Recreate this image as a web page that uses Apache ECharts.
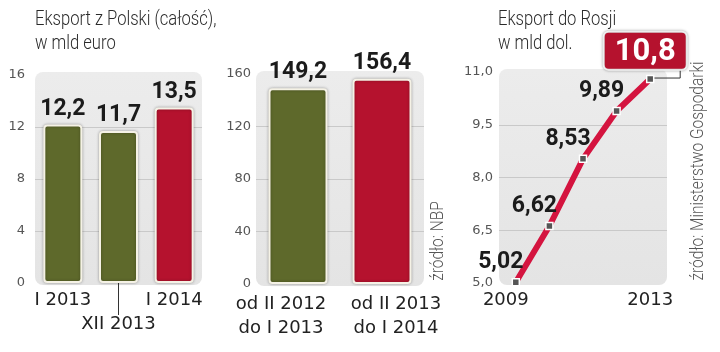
<!DOCTYPE html>
<html>
<head>
<meta charset="utf-8">
<script src="https://cdn.jsdelivr.net/npm/echarts@6/dist/echarts.min.js"></script>
<style>
html, body { margin: 0; padding: 0; background: #fff; }
#chart { width: 720px; height: 352px; }
</style>
</head>
<body>
<div id="chart"></div>
<script>
// data
var monthCats = ['I 2013', 'XII 2013', 'I 2014'];
var monthVals = [12.2, 11.7, 13.5];
var monthTicks = [0, 4, 8, 12, 16];

var yearCats = ['od II 2012\ndo I 2013', 'od II 2013\ndo I 2014'];
var yearVals = [149.2, 156.4];
var yearTicks = [0, 40, 80, 120, 160];

var russiaYears = ['2009', '2010', '2011', '2012', '2013'];
var russiaVals = [5.02, 6.62, 8.53, 9.89, 10.8];
var russiaTicks = [5.0, 6.5, 8.0, 9.5, 11.0];
var russiaShownYears = ['2009', '2013'];

var OLIVE = '#5e692b', RED = '#b5122e', LINE_RED = '#d4143f';
var BOLD = 'Roboto, sans-serif';
var PLAIN = '"DejaVu Sans", sans-serif';

function comma(v, d) {
    return (d == null ? String(v) : v.toFixed(d)).replace('.', ',');
}

// plot areas: left, top, width, height
var boxes = [
    [35, 75, 167, 208],
    [256, 74, 168, 210],
    [499, 72, 168, 211]
];

var chart = echarts.init(document.getElementById('chart'));

function valueAxis(idx, ticks, margin, fmt) {
    return {
        type: 'value', gridIndex: idx,
        min: ticks[0], max: ticks[ticks.length - 1],
        interval: ticks[1] - ticks[0],
        axisLine: { show: false },
        axisTick: { show: false },
        axisLabel: {
            color: '#555', fontFamily: PLAIN, fontSize: 13, margin: margin,
            formatter: fmt
        },
        splitLine: {
            show: true, showMinLine: false, showMaxLine: false,
            lineStyle: { color: '#c9c9c9', width: 1 }
        }
    };
}

var valueLabel = {
    show: true,
    position: 'top',
    distance: 4,
    fontFamily: BOLD,
    fontWeight: 'bold',
    fontSize: 23,
    color: '#1b1b1b',
    formatter: function (p) { return comma(p.value); }
};

var barStyle = function (lastIdx) {
    return {
        color: function (p) { return p.dataIndex === lastIdx ? RED : OLIVE; },
        borderColor: '#f5f2e6',
        borderWidth: 2,
        borderRadius: 3,
        shadowColor: 'rgba(0,0,0,0.3)',
        shadowBlur: 3
    };
};

var option = {
    animation: false,
    grid: boxes.map(function (b) {
        return { left: b[0], top: b[1], width: b[2], height: b[3] };
    }),
    xAxis: [{
        type: 'category', gridIndex: 0,
        data: monthCats.map(function (c, i) {
            return i === 1 ? { value: c, textStyle: { padding: [24, 0, 0, 0] } } : c;
        }),
        axisLine: { show: false },
        axisTick: {
            show: true, alignWithLabel: true, length: 32,
            interval: function (i) { return i === 1; },
            lineStyle: { color: '#333', width: 1 }
        },
        axisLabel: { interval: 0, color: '#222', fontFamily: PLAIN, fontSize: 18, margin: 8 }
    }, {
        type: 'category', gridIndex: 1,
        data: yearCats.map(function (c, i) {
            return { value: c, textStyle: { padding: i === 0 ? [0, 34, 0, 0] : [0, 0, 0, 28] } };
        }),
        axisLine: { show: false },
        axisTick: { show: false },
        axisLabel: { interval: 0, color: '#222', fontFamily: PLAIN, fontSize: 18, lineHeight: 24, margin: 8 }
    }, {
        type: 'category', gridIndex: 2, boundaryGap: true,
        data: russiaYears.map(function (c, i) {
            return i === 0 ? { value: c, textStyle: { padding: [0, 20, 0, 0] } } : c;
        }),
        axisLine: { show: false },
        axisTick: { show: false },
        axisLabel: {
            color: '#222', fontFamily: PLAIN, fontSize: 18, margin: 8,
            interval: function (i, v) { return russiaShownYears.indexOf(v) >= 0; }
        }
    }],
    yAxis: [
        valueAxis(0, monthTicks, 10, function (v) { return String(v); }),
        valueAxis(1, yearTicks, 5, function (v) { return String(v); }),
        valueAxis(2, russiaTicks, 6, function (v) { return comma(v, 1); })
    ],
    series: [{
        type: 'bar', xAxisIndex: 0, yAxisIndex: 0,
        data: monthVals, barWidth: 39,
        itemStyle: barStyle(monthVals.length - 1),
        label: valueLabel
    }, {
        type: 'bar', xAxisIndex: 1, yAxisIndex: 1,
        data: yearVals, barWidth: 59,
        itemStyle: barStyle(yearVals.length - 1),
        label: valueLabel
    }, {
        type: 'line', xAxisIndex: 2, yAxisIndex: 2,
        data: russiaVals.map(function (v, i) {
            if (i < russiaVals.length - 1) return v;
            return {
                value: v,
                label: {
                    offset: [-5, 0],
                    distance: 6,
                    color: '#fff',
                    fontSize: 31,
                    lineHeight: 32,
                    backgroundColor: RED,
                    borderColor: '#fff',
                    borderWidth: 2,
                    borderRadius: 4,
                    padding: [3, 10, 1, 10],
                    shadowColor: 'rgba(0,0,0,0.35)',
                    shadowBlur: 3
                }
            };
        }),
        symbol: 'rect', symbolSize: 7,
        lineStyle: { color: LINE_RED, width: 6 },
        itemStyle: { color: '#555', borderColor: '#fff', borderWidth: 1.5 },
        label: Object.assign({}, valueLabel, { offset: [-15, 0] }),
        z: 3
    }]
};

chart.setOption(option);

// leader line from the 10,8 box down to the last point
var last = chart.convertToPixel({ xAxisIndex: 2, yAxisIndex: 2 },
    [russiaVals.length - 1, russiaVals[russiaVals.length - 1]]);

var titleFont = '300 20px Roboto, sans-serif';
var sourceFont = '300 18px Roboto, sans-serif';

var graphics = boxes.map(function (b) {
    return {
        type: 'rect', z: -10, silent: true,
        shape: { x: b[0], y: b[1] - 3, width: b[2], height: b[3] + 5, r: 8 },
        style: {
            fill: new echarts.graphic.LinearGradient(0, 0, 0, 1, [
                { offset: 0, color: '#ececec' }, { offset: 1, color: '#e4e4e4' }
            ])
        }
    };
}).concat([{
    type: 'polyline', z: 1,
    shape: { points: [[last[0], last[1] - 1], [last[0] + 30, last[1] - 1], [last[0] + 30, last[1] - 12]] },
    style: { stroke: '#333', lineWidth: 1, fill: null }
}, {
    type: 'text', x: 35, y: 8, scaleX: 0.83,
    style: { text: 'Eksport z Polski (całość),\nw mld euro', fill: '#2a2a2a', font: titleFont, lineHeight: 24 }
}, {
    type: 'text', x: 498, y: 8, scaleX: 0.83,
    style: { text: 'Eksport do Rosji\nw mld dol.', fill: '#2a2a2a', font: titleFont, lineHeight: 24 }
}, {
    type: 'text', x: 438, y: 241, rotation: Math.PI / 2, scaleX: 0.86,
    style: { text: 'źródło: NBP', fill: '#555', font: sourceFont, align: 'center', verticalAlign: 'middle' }
}, {
    type: 'text', x: 698, y: 171, rotation: Math.PI / 2, scaleX: 0.86,
    style: { text: 'źródło: Ministerstwo Gospodarki', fill: '#555', font: sourceFont, align: 'center', verticalAlign: 'middle' }
}]);

chart.setOption({ graphic: graphics });
</script>
</body>
</html>
